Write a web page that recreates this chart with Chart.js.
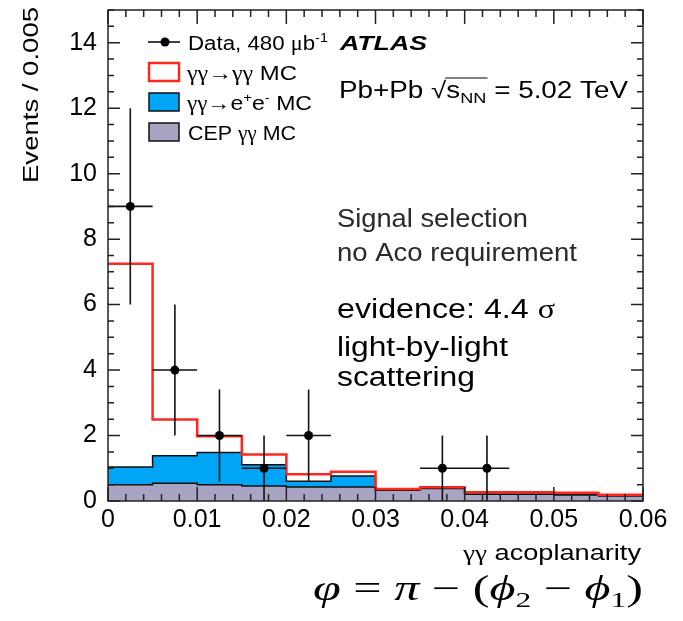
<!DOCTYPE html>
<html>
<head>
<meta charset="utf-8">
<script src="https://cdn.jsdelivr.net/npm/chart.js@4.4.0/dist/chart.umd.min.js"></script>
<style>
html,body{margin:0;padding:0;background:#fff}
#wrap{width:683px;height:621px}
</style>
</head>
<body>
<div id="wrap"><canvas id="aco" width="683" height="621"></canvas></div>
<script>
// bin edges of the acoplanarity histogram (width 0.005)
var binEdges = [0, 0.005, 0.01, 0.015, 0.02, 0.025, 0.03, 0.035, 0.04, 0.045, 0.05, 0.055, 0.06];
// stacked MC contributions per bin
var cepMC = [0.50, 0.54, 0.50, 0.46, 0.43, 0.43, 0.33, 0.38, 0.21, 0.21, 0.18, 0.15];
var eeMC  = [0.54, 0.84, 0.98, 0.65, 0.17, 0.33, 0, 0, 0, 0, 0, 0];
var lblMC = [6.21, 1.11, 0.50, 0.31, 0.22, 0.13, 0.04, 0.04, 0.06, 0.06, 0.07, 0.04];
// data points
var dataX   = [0.0025, 0.0075, 0.0125, 0.0175, 0.0225, 0.0375, 0.0425];
var dataY   = [9, 4, 2, 1, 2, 1, 1];
var dataErr = [3, 2, 1.41, 1, 1.41, 1, 1];
var xTicks = [0, 0.01, 0.02, 0.03, 0.04, 0.05, 0.06];
var yTicks = [0, 2, 4, 6, 8, 10, 12, 14];

var SANS = '"Liberation Sans", Arial, sans-serif';
var SERIF = '"Liberation Serif", "DejaVu Serif", serif';
var halfBin = 0.0025;

var stackStep, richText, framePlugin, errorPlugin, textPlugin, cumEE, cumAll;

// turn per-bin values into points for a stepped line
stackStep = function (vals) {
  var pts = [];
  for (var i = 0; i < vals.length; i++) pts.push({ x: binEdges[i], y: vals[i] });
  pts.push({ x: binEdges[binEdges.length - 1], y: vals[vals.length - 1] });
  return pts;
};

cumEE = cepMC.map(function (v, i) { return v + eeMC[i]; });
cumAll = cumEE.map(function (v, i) { return v + lblMC[i]; });

// draw a list of [text, font, dy] pieces, stretched to a width
richText = function (ctx, parts, x, y, width, color) {
  var total = 0, pos = [];
  parts.forEach(function (p) { ctx.font = p[1]; p.w = ctx.measureText(p[0]).width; total += p.w; });
  var sx = width ? width / total : 1;
  ctx.save();
  ctx.fillStyle = color || '#000';
  ctx.textBaseline = 'alphabetic';
  ctx.textAlign = 'left';
  ctx.translate(x, y);
  ctx.scale(sx, 1);
  var cx = 0;
  parts.forEach(function (p) {
    ctx.font = p[1];
    ctx.fillText(p[0], cx, p[2] || 0);
    pos.push([x + cx * sx, x + (cx + p.w) * sx]);
    cx += p.w;
  });
  ctx.restore();
  return pos;
};

framePlugin = {
  id: 'frame',
  afterDatasetsDraw: function (chart) {
    var ctx = chart.ctx, a = chart.chartArea, xs = chart.scales.x, ys = chart.scales.y, i, p, len;
    ctx.save();
    ctx.strokeStyle = '#222';
    ctx.lineWidth = 1.5;
    ctx.beginPath();
    for (i = 0; i <= 30; i++) {
      p = ys.getPixelForValue(i * 0.5);
      len = (i % 4 === 0) ? 12 : 6;
      ctx.moveTo(a.left, p); ctx.lineTo(a.left + len, p);
      ctx.moveTo(a.right, p); ctx.lineTo(a.right - len, p);
    }
    for (i = 0; i <= 30; i++) {
      p = xs.getPixelForValue(i * 0.002);
      len = (i % 5 === 0) ? 14 : 7;
      ctx.moveTo(p, a.bottom); ctx.lineTo(p, a.bottom - len);
      ctx.moveTo(p, a.top); ctx.lineTo(p, a.top + len);
    }
    ctx.stroke();
    ctx.strokeRect(a.left, a.top, a.right - a.left, a.bottom - a.top);
    ctx.restore();
  }
};

errorPlugin = {
  id: 'errs',
  beforeDatasetDraw: function (chart, args) {
    if (args.index !== 3) return;
    var ctx = chart.ctx, xs = chart.scales.x, ys = chart.scales.y;
    ctx.save();
    ctx.strokeStyle = '#111';
    ctx.lineWidth = 1.6;
    ctx.beginPath();
    dataX.forEach(function (x, i) {
      var px = xs.getPixelForValue(x), py = ys.getPixelForValue(dataY[i]);
      ctx.moveTo(px, ys.getPixelForValue(Math.max(0, dataY[i] - dataErr[i])));
      ctx.lineTo(px, ys.getPixelForValue(dataY[i] + dataErr[i]));
      ctx.moveTo(xs.getPixelForValue(x - halfBin), py);
      ctx.lineTo(xs.getPixelForValue(x + halfBin), py);
    });
    ctx.stroke();
    ctx.restore();
  }
};

textPlugin = {
  id: 'texts',
  afterDraw: function (chart) {
    var ctx = chart.ctx, f20 = '20px ' + SANS, g20 = '20px ' + SERIF, s13 = '13px ' + SANS;
    // legend markers
    ctx.save();
    ctx.strokeStyle = '#111'; ctx.lineWidth = 1.6;
    ctx.beginPath(); ctx.moveTo(148, 42); ctx.lineTo(180, 42); ctx.stroke();
    ctx.fillStyle = '#000'; ctx.beginPath(); ctx.arc(165, 42, 4.5, 0, Math.PI * 2); ctx.fill();
    ctx.fillStyle = '#fff'; ctx.strokeStyle = 'rgb(255,40,30)'; ctx.lineWidth = 2.5;
    ctx.fillRect(149, 63, 30, 18); ctx.strokeRect(149, 63, 30, 18);
    ctx.fillStyle = '#00a5f5'; ctx.strokeStyle = '#111'; ctx.lineWidth = 1.5;
    ctx.fillRect(149, 93, 30, 18); ctx.strokeRect(149, 93, 30, 18);
    ctx.fillStyle = '#a8a5c4';
    ctx.fillRect(149, 123, 30, 18); ctx.strokeRect(149, 123, 30, 18);
    ctx.restore();

    richText(ctx, [['Data, 480 ', f20], ['\u03bc', g20], ['b', f20], ['-1', s13, -8]], 188, 49.5, 140);
    richText(ctx, [['ATLAS', 'bold italic 21px ' + SANS]], 340, 49.5, 87);
    richText(ctx, [['\u03b3\u03b3\u2192\u03b3\u03b3', g20], [' MC', f20]], 187, 80, 110);
    richText(ctx, [['\u03b3\u03b3\u2192', g20], ['e', f20], ['+', s13, -8], ['e', f20], ['-', s13, -8], [' MC', f20]], 187, 110, 125);
    richText(ctx, [['CEP ', f20], ['\u03b3\u03b3', g20], [' MC', f20]], 188, 139.5, 108);

    // Pb+Pb sqrt(s_NN)
    var pb = richText(ctx, [['Pb+Pb ', '23px ' + SANS], ['\u221a', '23px ' + SANS], ['s', '23px ' + SANS],
      ['NN', '15px ' + SANS, 5], [' = 5.02 TeV', '23px ' + SANS]], 339, 98, 289);
    ctx.save();
    ctx.strokeStyle = '#000'; ctx.lineWidth = 1.2;
    ctx.beginPath(); ctx.moveTo(pb[1][1] - 1, 78); ctx.lineTo(pb[3][1] + 1, 78); ctx.stroke();
    ctx.restore();

    richText(ctx, [['Signal selection', '25px ' + SANS]], 337, 226.7, 191, '#2a2a2a');
    richText(ctx, [['no Aco requirement', '25px ' + SANS]], 337, 261, 240, '#2a2a2a');
    richText(ctx, [['evidence: 4.4 ', '27px ' + SANS], ['\u03c3', '27px ' + SERIF]], 337, 318, 218);
    richText(ctx, [['light-by-light', '27px ' + SANS]], 337, 356, 171);
    richText(ctx, [['scattering', '27px ' + SANS]], 337, 386, 138);

    // axis titles
    richText(ctx, [['\u03b3\u03b3', '22px ' + SERIF], [' acoplanarity', '22px ' + SANS]], 463, 560, 178);
    var it = 'italic 35px ' + SERIF, rm = '35px ' + SERIF, sub = '22px ' + SERIF;
    richText(ctx, [['\u03c6', it], [' = ', rm], ['\u03c0', it], [' \u2212 (', rm], ['\u03d5', it], ['2', sub, 7],
      [' \u2212 ', rm], ['\u03d5', it], ['1', sub, 7], [')', rm]], 313, 600, 330);

    ctx.save();
    ctx.translate(38, 183);
    ctx.rotate(-Math.PI / 2);
    richText(ctx, [['Events / 0.005', '22px ' + SANS]], 0, 0, 176);
    ctx.restore();
  }
};

new Chart(document.getElementById('aco').getContext('2d'), {
  type: 'line',
  data: {
    datasets: [
      { label: 'CEP', data: stackStep(cepMC), stepped: true, fill: 'origin', backgroundColor: '#a8a5c4',
        borderColor: '#111', borderWidth: 1.5, pointRadius: 0, order: 2 },
      { label: 'ee', data: stackStep(cumEE), stepped: true, fill: 'origin', backgroundColor: '#00a5f5',
        borderColor: '#111', borderWidth: 1.5, pointRadius: 0, order: 3 },
      { label: 'lbl', data: stackStep(cumAll), stepped: true, fill: false,
        borderColor: 'rgb(255,40,30)', borderWidth: 2.5, pointRadius: 0, order: 1 },
      { label: 'data', data: dataX.map(function (x, i) { return { x: x, y: dataY[i] }; }), showLine: false,
        pointRadius: 4.5, pointBackgroundColor: '#000', pointBorderWidth: 0, order: 0 }
    ]
  },
  options: {
    responsive: false,
    animation: false,
    layout: { padding: { left: 0, right: 40, top: 10, bottom: 0 } },
    plugins: { legend: { display: false }, tooltip: { enabled: false } },
    scales: {
      x: {
        type: 'linear', min: 0, max: 0.06,
        grid: { display: false, drawTicks: false }, border: { display: false },
        afterBuildTicks: function (s) { s.ticks = xTicks.map(function (v) { return { value: v }; }); },
        afterFit: function (s) { s.height = 120; s.paddingLeft = 0; s.paddingRight = 0; },
        ticks: { font: { family: SANS, size: 25 }, color: '#000', padding: 4, maxRotation: 0, autoSkip: false,
          callback: function (v) { return String(v); } }
      },
      y: {
        min: 0, max: 15,
        grid: { display: false, drawTicks: false }, border: { display: false },
        afterBuildTicks: function (s) { s.ticks = yTicks.map(function (v) { return { value: v }; }); },
        afterFit: function (s) { s.width = 108; s.paddingTop = 0; s.paddingBottom = 0; },
        ticks: { font: { family: SANS, size: 25 }, color: '#000', padding: 11,
          callback: function (v) { return String(v); } }
      }
    }
  },
  plugins: [errorPlugin, framePlugin, textPlugin]
});
</script>
</body>
</html>
